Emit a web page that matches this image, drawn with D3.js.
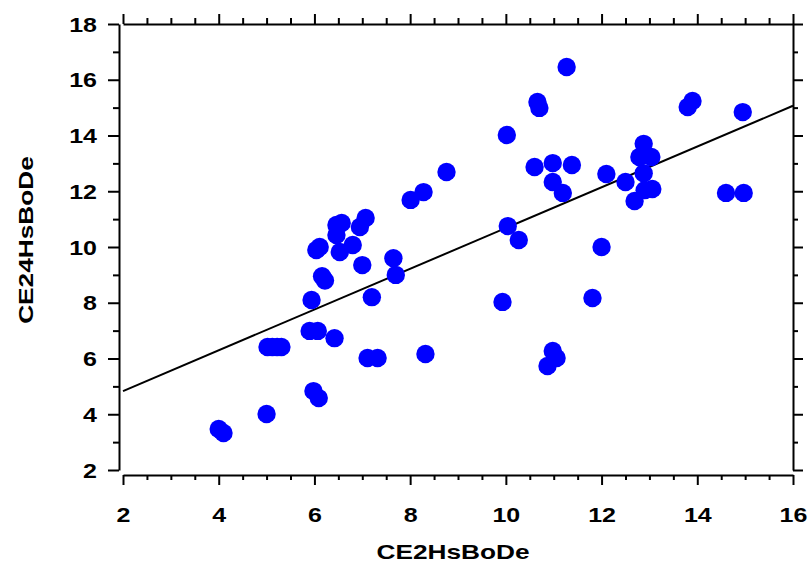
<!DOCTYPE html>
<html>
<head>
<meta charset="utf-8">
<script src="https://cdn.jsdelivr.net/npm/d3@7"></script>
<style>
  body { margin: 0; background: #fff; }
  svg text { font-family: "Liberation Sans", Arial, Helvetica, sans-serif; font-weight: bold; }
</style>
</head>
<body>
<div id="app"></div>
<script>
// data
let xVals = [4.0, 4.1, 5.0, 5.02, 5.12, 5.22, 5.31, 5.98, 6.09, 5.9, 6.07, 6.42, 5.94,
  6.04, 6.11, 6.16, 6.22, 6.46, 6.57, 6.46, 6.53, 6.8, 6.95, 7.07, 7.0, 7.2, 7.11, 7.32,
  7.65, 7.7, 8.01, 8.28, 8.32, 8.76, 9.93, 10.02, 10.04, 10.27, 10.66, 10.7, 10.6, 10.98,
  11.38, 10.98, 11.19, 11.27, 11.81, 10.98, 11.06, 10.87, 12.0, 12.1, 12.5, 12.88, 12.79,
  13.04, 12.88, 13.06, 12.9, 12.69, 13.8, 13.9, 14.95, 14.6, 14.97]
let yVals = [3.47, 3.33, 4.01, 6.41, 6.41, 6.41, 6.41, 4.83, 4.58, 6.99, 6.99, 6.73, 8.1,
  9.89, 10.0, 8.95, 8.8, 10.79, 10.86, 10.43, 9.82, 10.07, 10.72, 11.04, 9.35, 8.2, 6.02, 6.02,
  9.6, 9.0, 11.69, 11.97, 6.16, 12.69, 8.03, 14.02, 10.75, 10.25, 15.2, 14.99, 12.87, 13.01,
  12.94, 12.33, 11.94, 16.46, 8.17, 6.27, 6.02, 5.73, 10.0, 12.62, 12.33, 13.7, 13.23,
  13.23, 12.65, 12.08, 12.04, 11.65, 15.02, 15.24, 14.84, 11.94, 11.94]
let fitLine = [3.37, 0.731] // intercept, slope

let xMajor = [2, 4, 6, 8, 10, 12, 14, 16]
let yMajor = [2, 4, 6, 8, 10, 12, 14, 16, 18]
let xMinor = d3.range(2, 16.01, 0.5).filter(v => v % 2 !== 0)
let yMinor = d3.range(3, 18, 2)

let width = 808, height = 563
let svg = d3.select("#app").append("svg")
    .attr("width", width)
    .attr("height", height)

let x = d3.scaleLinear().domain([2, 16]).range([123, 793])
let y = d3.scaleLinear().domain([2, 18]).range([470, 24])

// draws one side: major ticks with labels + minor ticks
function drawAxis(axisFn, scale, pos, major, minor, bigLen, smallLen, labels) {
    let g = svg.append("g").attr("transform", pos)
    g.call(axisFn(scale).tickValues(minor).tickSize(smallLen).tickSizeOuter(0).tickFormat(""))
    let gm = g.append("g")
    gm.call(axisFn(scale).tickValues(major).tickSize(bigLen).tickSizeOuter(0)
        .tickFormat(labels ? d3.format("d") : ""))
    gm.select(".domain").remove()
    g.selectAll("path, line").attr("stroke", "#000").attr("stroke-width", 2)
    gm.selectAll("text").attr("font-size", 20).attr("fill", "#000")
    return gm
}

let bottom = drawAxis(d3.axisBottom, x, "translate(0,475)", xMajor, xMinor, 10, 5, true)
bottom.selectAll(".tick text")
    .attr("y", 0).attr("dy", 0)
    .attr("transform", "translate(0,47) scale(1.25,1)")

let left = drawAxis(d3.axisLeft, y, "translate(119,0)", yMajor, yMinor, 11, 6, true)
left.selectAll(".tick text")
    .attr("x", 0).attr("dy", 0)
    .attr("text-anchor", "end")
    .attr("transform", "translate(-22,7) scale(1.25,1)")

drawAxis(d3.axisTop, x, "translate(0,24)", xMajor, xMinor, 10, 6, false)
drawAxis(d3.axisRight, y, "translate(793,0)", yMajor, yMinor, 10, 5, false)

// fitted line
svg.append("line")
    .attr("x1", x(2)).attr("y1", y(fitLine[0] + fitLine[1] * 2))
    .attr("x2", x(16)).attr("y2", y(fitLine[0] + fitLine[1] * 16))
    .attr("stroke", "#000")
    .attr("stroke-width", 2)

// points
svg.append("g")
    .selectAll("circle")
    .data(xVals.map((v, i) => ({x: v, y: yVals[i]})))
    .enter().append("circle")
    .attr("cx", d => x(d.x))
    .attr("cy", d => y(d.y))
    .attr("r", 9.2)
    .attr("fill", "#0000ff")

// axis titles
svg.append("text")
    .attr("transform", "translate(453,559) scale(1.25,1)")
    .attr("text-anchor", "middle")
    .attr("font-size", 21)
    .text("CE2HsBoDe")

svg.append("text")
    .attr("transform", "translate(33,240) rotate(-90) scale(1.25,1)")
    .attr("text-anchor", "middle")
    .attr("font-size", 21)
    .text("CE24HsBoDe")
</script>
</body>
</html>
